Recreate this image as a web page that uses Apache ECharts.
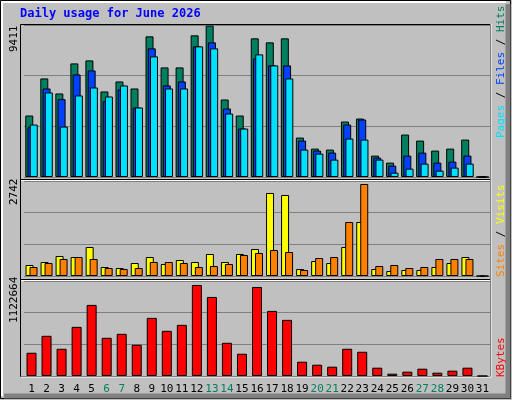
<!DOCTYPE html>
<html><head><meta charset="utf-8">
<script src="https://cdn.jsdelivr.net/npm/echarts@6/dist/echarts.min.js"></script>
<style>html,body{margin:0;padding:0;background:#c0c0c0}#c{width:512px;height:400px}</style>
</head><body><div id="c"></div>
<script>
const days = Array.from({length:31},(_,i)=>String(i+1));
const weekend = ['6','7','13','14','20','21','27','28'];
const hits  = [3822,6127,5193,7062,7249,5317,5940,5504,8744,6813,6813,8806,9411,4819,3822,8620,8370,8620,2451,1765,1703,3448,3635,1329,893,2638,2264,1641,1765,2326,0];
const files = [3095,5504,4840,6376,6626,4715,5442,4320,7997,5691,5940,8121,8370,4258,3012,7373,6937,6937,2264,1641,1516,3261,3572,1205,706,1329,1516,893,955,1329,0];
const pages = [3261,5255,3136,5068,5566,5006,5691,4320,7498,5504,5504,8121,7997,3946,3012,7623,6937,6127,1703,1454,1080,2389,2326,1080,270,519,831,395,582,831,0];
const visits= [328,417,596,566,864,268,238,387,566,358,477,417,656,417,656,805,2474,2414,209,447,387,864,1609,209,149,179,179,268,387,566,0];
const sites = [268,387,507,566,507,238,209,238,417,417,387,268,298,358,626,686,775,715,179,536,566,1609,2742,298,328,238,268,507,507,507,0];
const kbytes= [286800,495700,335900,606400,876800,471200,520300,385100,717000,557200,631000,1122664,975100,409700,274500,1098000,803000,692400,176200,139300,114700,335900,299100,102400,28700,53300,90100,41000,65600,102400,0];
const maxLabels = ['9411','2742','1122664'];
const title = 'Daily usage for June 2026';

const mono = 'DejaVu Sans Mono';
const grids = [
  {left:24,right:22,top:25,height:152},
  {left:24,right:22,top:181,height:95},
  {left:24,right:22,top:281,height:95}
];
const maxes = [9450,2831,1171800];
const xAxis = grids.map((g,i)=>({type:'category',gridIndex:i,data:days,
  axisLine:{show:false},axisTick:{show:false},
  axisLabel:{show:i===2,fontFamily:mono,fontSize:11,margin:8,interval:0,
    color:(v)=>weekend.includes(v)?'#008060':'#000'}}));
const yAxis = grids.map((g,i)=>({type:'value',gridIndex:i,min:0,max:maxes[i],interval:maxes[i]/3,
  axisLabel:{show:false},axisLine:{show:false},axisTick:{show:false},
  splitLine:{show:true,lineStyle:{color:'#808080',width:1}}}));
const bs = (c)=>({color:c,borderColor:'#000',borderWidth:1});
const series = [
  {type:'bar',xAxisIndex:0,yAxisIndex:0,data:hits,barWidth:8,barGap:'-72%',itemStyle:bs('#008060'),animation:false},
  {type:'bar',xAxisIndex:0,yAxisIndex:0,data:files,barWidth:8,barGap:'-72%',itemStyle:bs('#0040ff'),animation:false},
  {type:'bar',xAxisIndex:0,yAxisIndex:0,data:pages,barWidth:8,barGap:'-72%',itemStyle:bs('#00e0ff'),animation:false},
  {type:'bar',xAxisIndex:1,yAxisIndex:1,data:visits,barWidth:8,barGap:'-50%',itemStyle:bs('#ffff00'),animation:false},
  {type:'bar',xAxisIndex:1,yAxisIndex:1,data:sites,barWidth:8,barGap:'-50%',itemStyle:bs('#ff8000'),animation:false},
  {type:'bar',xAxisIndex:2,yAxisIndex:2,data:kbytes,barWidth:10,itemStyle:bs('#ff0000'),animation:false}
];
const rot = Math.PI/2;
const graphic = [
  {type:'rect',shape:{x:0.5,y:0.5,width:510,height:398},style:{fill:'none',stroke:'#000',lineWidth:1},silent:true},
  {type:'polyline',shape:{points:[[2,396],[2,2],[506,2]]},style:{stroke:'#fff',lineWidth:2,fill:'none'}},
  {type:'polyline',shape:{points:[[508,4],[508,396],[4,396]]},style:{stroke:'#808080',lineWidth:5,fill:'none'}},
  {type:'rect',shape:{x:20.5,y:24.5,width:470,height:352},style:{fill:'none',stroke:'#000',lineWidth:1}},
  {type:'polyline',shape:{points:[[21,377],[491,377],[491,24]]},style:{stroke:'#fff',lineWidth:1,fill:'none'}},
  {type:'line',shape:{x1:21,y1:179.5,x2:490,y2:179.5},style:{stroke:'#000',lineWidth:1}},
  {type:'line',shape:{x1:21,y1:180.5,x2:490,y2:180.5},style:{stroke:'#fff',lineWidth:1}},
  {type:'line',shape:{x1:21,y1:279.5,x2:490,y2:279.5},style:{stroke:'#000',lineWidth:1}},
  {type:'line',shape:{x1:21,y1:280.5,x2:490,y2:280.5},style:{stroke:'#fff',lineWidth:1}},
  {type:'text',x:20,y:8,style:{text:title,fill:'#0000ff',font:'bold 12px "DejaVu Sans Mono"'}},
  {type:'text',x:9,y:52,rotation:rot,style:{text:maxLabels[0],fill:'#000',font:'11px "DejaVu Sans Mono"'}},
  {type:'text',x:9,y:205,rotation:rot,style:{text:maxLabels[1],fill:'#000',font:'11px "DejaVu Sans Mono"'}},
  {type:'text',x:9,y:323,rotation:rot,style:{text:maxLabels[2],fill:'#000',font:'11px "DejaVu Sans Mono"'}},
  {type:'text',x:496,y:138,rotation:rot,style:{text:'{p|Pages} {s|/} {f|Files} {s|/} {h|Hits}',font:'11px "DejaVu Sans Mono"',
    rich:{p:{fill:'#00e0ff',font:'11px "DejaVu Sans Mono"'},f:{fill:'#0040ff',font:'11px "DejaVu Sans Mono"'},h:{fill:'#008060',font:'11px "DejaVu Sans Mono"'},s:{fill:'#000',font:'11px "DejaVu Sans Mono"'}}}},
  {type:'text',x:496,y:277,rotation:rot,style:{text:'{a|Sites} {s|/} {v|Visits}',font:'11px "DejaVu Sans Mono"',
    rich:{a:{fill:'#ff8000',font:'11px "DejaVu Sans Mono"'},v:{fill:'#ffff00',font:'11px "DejaVu Sans Mono"'},s:{fill:'#000',font:'11px "DejaVu Sans Mono"'}}}},
  {type:'text',x:496,y:377,rotation:rot,style:{text:'KBytes',fill:'#ff0000',font:'11px "DejaVu Sans Mono"'}}
];
const chart = echarts.init(document.getElementById('c'),null,{renderer:'canvas'});
chart.setOption({backgroundColor:'#c0c0c0',animation:false,grid:grids,xAxis,yAxis,series,graphic});
</script></body></html>
